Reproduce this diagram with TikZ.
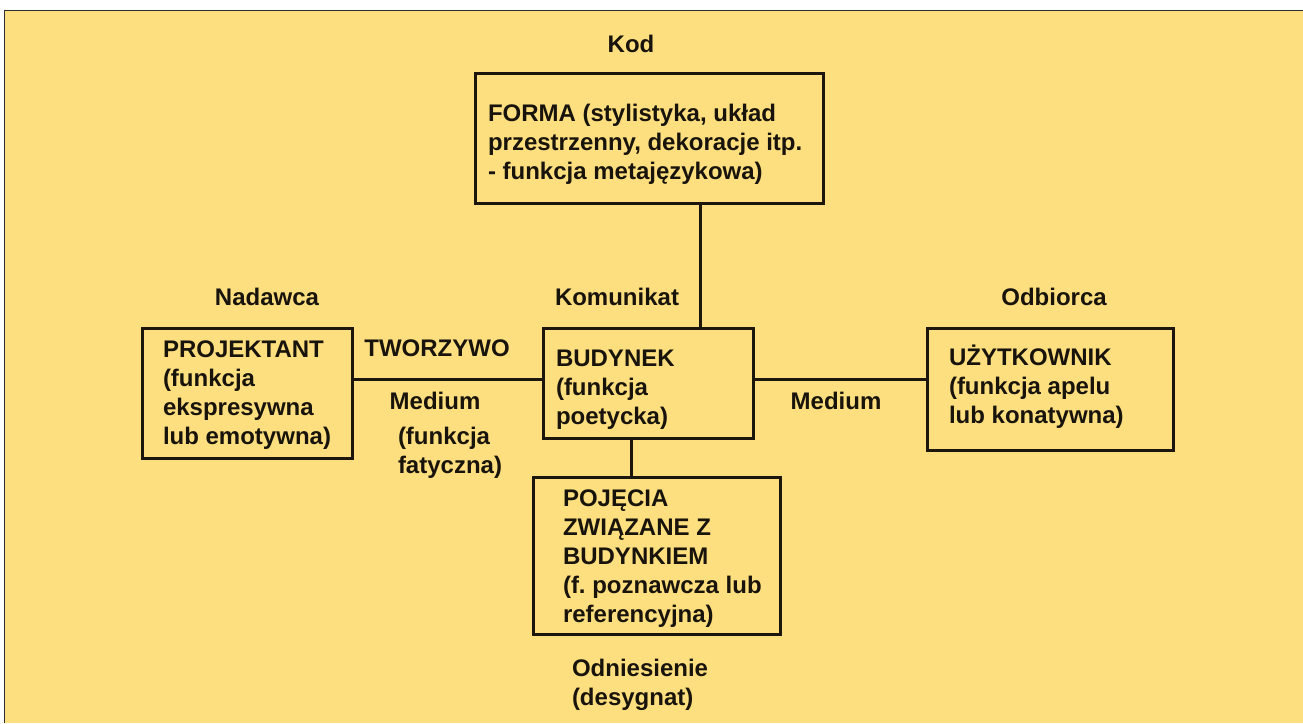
\documentclass[tikz,border=0pt]{standalone}
\usepackage{fontspec}
\setmainfont{Liberation Sans}
\frenchspacing

\definecolor{bgyellow}{RGB}{254,223,127}
\definecolor{framedraw}{RGB}{44,44,52}
\definecolor{boxdraw}{RGB}{28,22,12}
\definecolor{diagtext}{RGB}{24,20,12}

\begin{document}
\begin{tikzpicture}[
  x=1pt,
  y=-1pt,
  every node/.style={inner sep=0pt, outer sep=0pt},
  label/.style={font=\bfseries\fontsize{24}{29}\selectfont, text=diagtext, align=left},
  box/.style={draw=boxdraw, line width=3pt, rectangle},
  link/.style={draw=boxdraw, line width=3pt}
]

  \path[use as bounding box] (0,0) rectangle (1303,723);

  % background panel
  \fill[bgyellow] (4,10) rectangle (1303,723);
  \draw[framedraw, line width=1.6pt] (4.5,723) -- (4.5,10.5) -- (1303,10.5);

  % Kod (base of multi-line texts = last line)
  \node[label, anchor=base] (kod) at (631,52) {Kod};
  \node[box, minimum width=348, minimum height=130] (forma) at (649,138) {};
  \node[label, anchor=base west] (formatxt) at (488,179)
    {FORMA (stylistyka, układ\\przestrzenny, dekoracje itp.\\- funkcja metajęzykowa)};

  % Nadawca
  \node[label, anchor=base] (nadawca) at (267,305) {Nadawca};
  \node[box, minimum width=210, minimum height=130] (projektant) at (247,393) {};
  \node[label, anchor=base west] (projtxt) at (163,444)
    {PROJEKTANT\\(funkcja\\ekspresywna\\lub emotywna)};

  % Komunikat
  \node[label, anchor=base] (komunikat) at (617,305) {Komunikat};
  \node[box, minimum width=210, minimum height=110] (budynek) at (648,383) {};
  \node[label, anchor=base west] (budtxt) at (556,424)
    {BUDYNEK\\(funkcja\\poetycka)};

  % Odbiorca
  \node[label, anchor=base] (odbiorca) at (1054,305) {Odbiorca};
  \node[box, minimum width=246, minimum height=122] (uzytkownik) at (1050,389) {};
  \node[label, anchor=base west] (uzyttxt) at (949,423)
    {UŻYTKOWNIK\\(funkcja apelu\\lub konatywna)};

  % Odniesienie
  \node[box, minimum width=247, minimum height=157] (pojecia) at (656.5,555.5) {};
  \node[label, anchor=base west] (pojtxt) at (563,622)
    {POJĘCIA\\ZWIĄZANE Z\\BUDYNKIEM\\(f. poznawcza lub\\referencyjna)};
  \node[label, anchor=base west] (odniesienie) at (572,705) {Odniesienie\\(desygnat)};

  % medium labels
  \node[label, anchor=base] (tworzywo) at (437,356) {TWORZYWO};
  \node[label, anchor=base] (mediuml) at (435,409) {Medium};
  \node[label, anchor=base west] (fatyczna) at (398,473) {(funkcja\\fatyczna)};
  \node[label, anchor=base] (mediumr) at (836,409) {Medium};

  % connectors
  \draw[link] ([xshift=52pt]budynek.north) -- ([xshift=52pt]budynek.north |- forma.south);
  \draw[link] ([yshift=4pt]budynek.west) -- ([yshift=4pt]budynek.west -| projektant.east);
  \draw[link] ([yshift=4pt]budynek.east) -- ([yshift=4pt]budynek.east -| uzytkownik.west);
  \draw[link] ([xshift=-17pt]budynek.south) -- ([xshift=-17pt]budynek.south |- pojecia.north);

\end{tikzpicture}
\end{document}
